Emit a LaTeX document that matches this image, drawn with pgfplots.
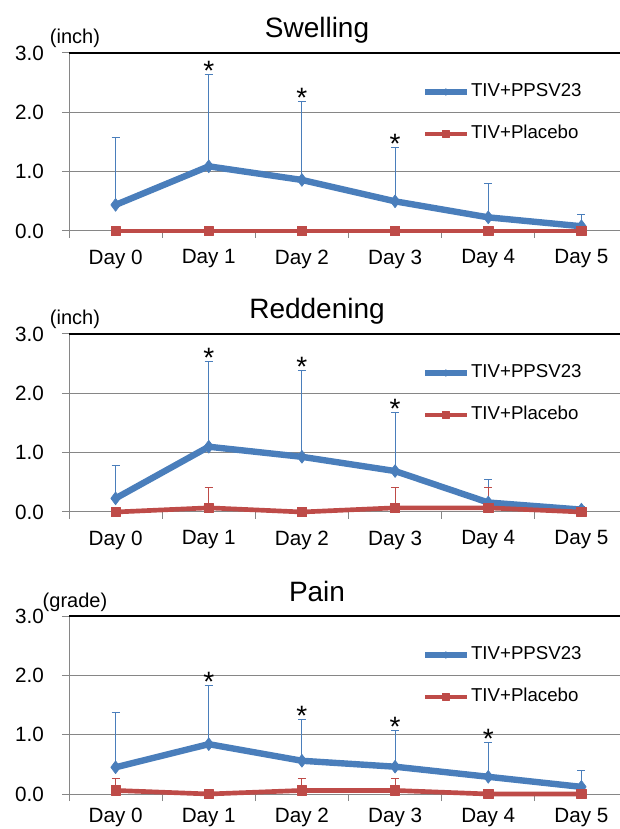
\documentclass[border=0pt]{standalone}
\usepackage{fontspec}
\setmainfont{Liberation Sans}
\usepackage{pgfplots}
\pgfplotsset{compat=1.18}
\usepackage{pgfplotstable}

\definecolor{serA}{HTML}{4A7EBB}
\definecolor{serB}{HTML}{BE4B48}
\definecolor{gridgray}{HTML}{868686}

% x = day, y = mean, e = upper error
\pgfplotstableread{
x y e
0 0.44 1.14
1 1.09 1.55
2 0.86 1.33
3 0.50 0.91
4 0.23 0.57
5 0.08 0.19
}\swellA
\pgfplotstableread{
x y e
0 0.00 0
1 0.00 0
2 0.00 0
3 0.00 0
4 0.00 0
5 0.00 0
}\swellB
\pgfplotstableread{
x y e
0 0.23 0.56
1 1.10 1.44
2 0.93 1.45
3 0.69 0.98
4 0.16 0.38
5 0.04 0.06
}\redA
\pgfplotstableread{
x y e
0 0.00 0
1 0.07 0.35
2 0.00 0
3 0.07 0.35
4 0.07 0.35
5 0.00 0
}\redB
\pgfplotstableread{
x y e
0 0.45 0.93
1 0.84 0.99
2 0.56 0.70
3 0.46 0.61
4 0.29 0.57
5 0.12 0.27
}\painA
\pgfplotstableread{
x y e
0 0.06 0.20
1 0.00 0
2 0.06 0.20
3 0.06 0.20
4 0.00 0
5 0.00 0
}\painB

\tikzset{
  star/.style={font=\fontsize{21}{21}\selectfont, anchor=base, yshift=-4.5pt},
  unit/.style={font=\fontsize{15}{15}\selectfont, anchor=base, yshift=6.75pt},
}

\pgfplotsset{
  panel/.style={
    anchor=south west,
    width=419.25pt, height=133.5pt, scale only axis,
    xmin=-0.5, xmax=5.5, ymin=0, ymax=3,
    clip=false,
    axis x line*=bottom, axis y line*=left,
    axis line style={gridgray, line width=0.75pt},
    tick align=outside, major tick length=5.25pt,
    tick style={gridgray, line width=0.75pt},
    ytick={0,1,2}, extra y ticks={3},
    extra y tick style={grid style={black, line width=0.9pt}},
    ymajorgrids, grid style={gridgray, line width=0.75pt},
    xtick={-0.5,0.5,...,5.5}, xticklabels={},
    extra x ticks={0,1,2,3,4,5},
    extra x tick labels={Day 0,Day 1,Day 2,Day 3,Day 4,Day 5},
    extra x tick style={major tick length=0pt},
    /pgf/number format/assume math mode=true,
    tick label style={font=\fontsize{15.5}{15.5}\selectfont, black},
    x tick label style={yshift=-10.5pt},
    y tick label style={xshift=-10pt, /pgf/number format/fixed,
      /pgf/number format/fixed zerofill, /pgf/number format/precision=1},
    title style={at={(0.4437,1)}, anchor=base, yshift=5.25pt,
      font=\fontsize{21}{24}\selectfont},
    legend style={at={(0.6315,0.837)}, anchor=north west, draw=none, fill=none,
      inner sep=0pt, outer sep=0pt,
      font=\fontsize{14}{14}\selectfont, row sep=16.5pt,
      nodes={inner sep=1pt, text height=10pt, text depth=3pt}},
    legend cell align=left,
    legend image code/.code={\draw[mark repeat=2, mark phase=2, #1, mark size=2.5pt]
      plot coordinates {(0pt,0pt) (15.5pt,0pt) (31pt,0pt)};},
  },
  lineA/.style={serA, line width=4.8pt, line join=round, mark=diamond*, mark size=4.8pt,
    mark options={solid, line width=0.5pt, fill=serA},
    error bars/.cd, y dir=plus, y explicit,
    error bar style={line width=0.75pt, serA},
    error mark options={rotate=90, serA, line width=0.75pt, mark size=3pt}},
  lineB/.style={serB, line width=3.5pt, line join=round, mark=square*, mark size=3.5pt,
    mark options={solid, line width=0.5pt, fill=serB},
    error bars/.cd, y dir=plus, y explicit,
    error bar style={line width=0.75pt, serB},
    error mark options={rotate=90, serB, line width=0.75pt, mark size=3pt}},
}

\begin{document}
\begin{tikzpicture}
\useasboundingbox (0,0) rectangle (465pt,621.75pt);

\begin{axis}[panel, at={(51.75pt,448.5pt)}, title={Swelling}]
\addplot[lineA] table[x=x, y=y, y error=e] {\swellA};
\addplot[lineB] table[x=x, y=y, y error=e] {\swellB};
\legend{TIV+PPSV23, TIV+Placebo}
\node[unit] at (rel axis cs:0.0107,1) {(inch)};
\node[star] at (axis cs:1,2.64) {*};
\node[star] at (axis cs:2,2.19) {*};
\node[star] at (axis cs:3,1.41) {*};
\end{axis}

\begin{axis}[panel, at={(51.75pt,237.75pt)}, title={Reddening}]
\addplot[lineA] table[x=x, y=y, y error=e] {\redA};
\addplot[lineB] table[x=x, y=y, y error=e] {\redB};
\legend{TIV+PPSV23, TIV+Placebo}
\node[unit] at (rel axis cs:0.0107,1) {(inch)};
\node[star] at (axis cs:1,2.54) {*};
\node[star] at (axis cs:2,2.38) {*};
\node[star] at (axis cs:3,1.67) {*};
\end{axis}

\begin{axis}[panel, at={(51.75pt,26.25pt)}, title={Pain},
  x tick label style={yshift=3.5pt}]
\addplot[lineA] table[x=x, y=y, y error=e] {\painA};
\addplot[lineB] table[x=x, y=y, y error=e] {\painB};
\legend{TIV+PPSV23, TIV+Placebo}
\node[unit] at (rel axis cs:0.0107,1) {(grade)};
\node[star] at (axis cs:1,1.83) {*};
\node[star] at (axis cs:2,1.26) {*};
\node[star] at (axis cs:3,1.07) {*};
\node[star] at (axis cs:4,0.86) {*};
\end{axis}
\end{tikzpicture}
\end{document}
